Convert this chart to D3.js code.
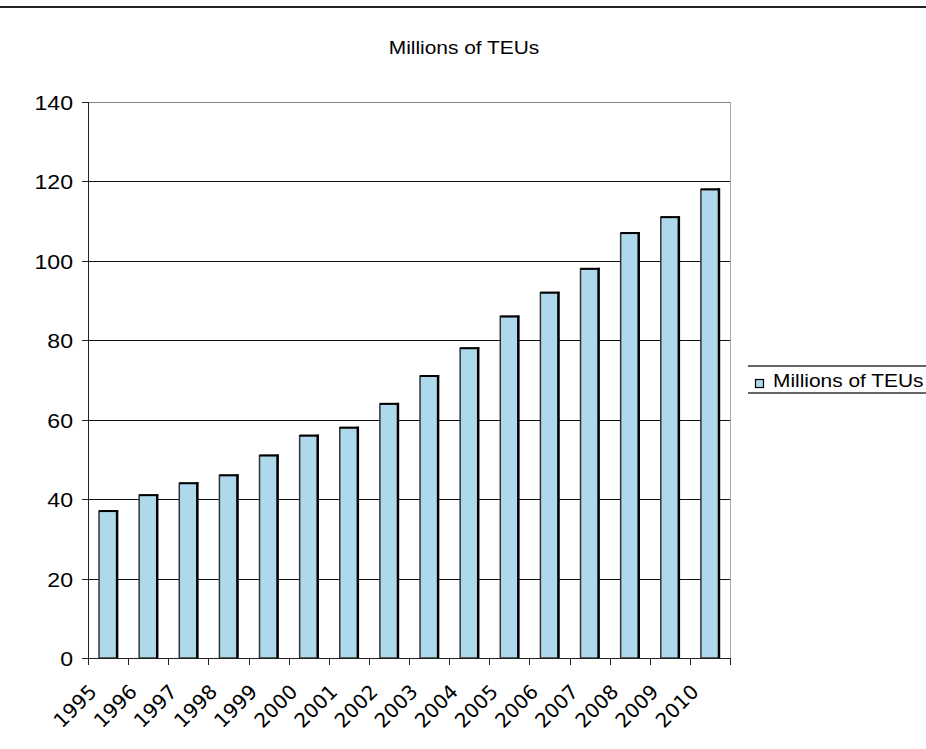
<!DOCTYPE html>
<html>
<head>
<meta charset="utf-8">
<script src="https://cdn.jsdelivr.net/npm/d3@7"></script>
<style>
  body { margin: 0; background: #fff; }
  svg { display: block; }
</style>
</head>
<body>
<div id="chart"></div>
<script>
const years = ['1995', '1996', '1997', '1998', '1999', '2000', '2001', '2002',
    '2003', '2004', '2005', '2006', '2007', '2008', '2009', '2010']
const teus = [37, 41, 44, 46, 51, 56, 58, 64, 71, 78, 86, 92, 98, 107, 111, 118]
const yTicks = [0, 20, 40, 60, 80, 100, 120, 140]
const seriesName = 'Millions of TEUs'

const width = 926
const height = 749
const plot = { left: 88, right: 730, top: 102, bottom: 658 }
const stretch = 1.1   // text in the original is a bit wide

const svg = d3.select('#chart')
    .append('svg')
    .attr('width', width)
    .attr('height', height)

const x = d3.scaleBand()
    .domain(years)
    .range([plot.left, plot.right])
    .paddingInner(0.55)
    .paddingOuter(0.275)

const y = d3.scaleLinear()
    .domain([0, 140])
    .range([plot.bottom, plot.top])

// top rule
svg.append('line')
    .attr('x1', 0).attr('x2', width)
    .attr('y1', 7).attr('y2', 7)
    .attr('stroke', '#222')
    .attr('stroke-width', 2)

// title
svg.append('text')
    .attr('transform', `translate(${width / 2 + 1},54) scale(${stretch},1)`)
    .attr('text-anchor', 'middle')
    .attr('font-family', 'Liberation Sans, Arial, sans-serif')
    .attr('font-size', 19)
    .attr('fill', '#000')
    .text(seriesName)

// gridlines
svg.append('g')
    .selectAll('line')
    .data(yTicks.filter(d => d > 0))
    .enter()
    .append('line')
    .attr('x1', plot.left).attr('x2', plot.right)
    .attr('y1', d => Math.round(y(d)) + 0.5)
    .attr('y2', d => Math.round(y(d)) + 0.5)
    .attr('stroke', d => d === 140 ? '#888' : '#111')
    .attr('stroke-width', 1)

// right border of plot
svg.append('line')
    .attr('x1', plot.right + 0.5).attr('x2', plot.right + 0.5)
    .attr('y1', plot.top).attr('y2', plot.bottom)
    .attr('stroke', '#aaa')

// bars
const bars = svg.append('g')
    .selectAll('g')
    .data(years.map((d, i) => ({ year: d, value: teus[i] })))
    .enter()
    .append('g')

bars.append('rect')
    .attr('x', d => x(d.year))
    .attr('y', d => y(d.value))
    .attr('width', x.bandwidth())
    .attr('height', d => y(0) - y(d.value))
    .attr('fill', '#aed8ec')
    .attr('stroke', '#333')
    .attr('stroke-width', 1.5)

bars.append('line')
    .attr('x1', d => x(d.year) + x.bandwidth())
    .attr('x2', d => x(d.year) + x.bandwidth())
    .attr('y1', d => y(d.value) - 1)
    .attr('y2', y(0))
    .attr('stroke', '#000')
    .attr('stroke-width', 2.5)

bars.append('line')
    .attr('x1', d => x(d.year))
    .attr('x2', d => x(d.year) + x.bandwidth() + 1)
    .attr('y1', d => y(d.value))
    .attr('y2', d => y(d.value))
    .attr('stroke', '#000')
    .attr('stroke-width', 2)

// y axis
svg.append('line')
    .attr('x1', plot.left + 0.5).attr('x2', plot.left + 0.5)
    .attr('y1', plot.top).attr('y2', plot.bottom + 6)
    .attr('stroke', '#222')

const yAxis = svg.append('g')
yAxis.selectAll('line')
    .data(yTicks)
    .enter()
    .append('line')
    .attr('x1', plot.left - 6).attr('x2', plot.left)
    .attr('y1', d => Math.round(y(d)) + 0.5)
    .attr('y2', d => Math.round(y(d)) + 0.5)
    .attr('stroke', '#222')

yAxis.selectAll('text')
    .data(yTicks)
    .enter()
    .append('text')
    .attr('transform', d => `translate(73,${y(d) + 8}) scale(${stretch},1)`)
    .attr('text-anchor', 'end')
    .attr('font-family', 'Liberation Sans, Arial, sans-serif')
    .attr('font-size', 21)
    .attr('fill', '#000')
    .text(d => d)

// x axis
svg.append('line')
    .attr('x1', plot.left).attr('x2', plot.right + 1)
    .attr('y1', plot.bottom + 0.5).attr('y2', plot.bottom + 0.5)
    .attr('stroke', '#222')

svg.append('g')
    .selectAll('line')
    .data(d3.range(years.length + 1))
    .enter()
    .append('line')
    .attr('x1', i => Math.round(plot.left + i * x.step()) + 0.5)
    .attr('x2', i => Math.round(plot.left + i * x.step()) + 0.5)
    .attr('y1', plot.bottom)
    .attr('y2', plot.bottom + 7)
    .attr('stroke', '#222')

svg.append('g')
    .selectAll('text')
    .data(years)
    .enter()
    .append('text')
    .attr('transform', d => `translate(${x(d) + x.bandwidth() / 2 - 10},693) rotate(-45)`)
    .attr('text-anchor', 'end')
    .attr('font-family', 'DejaVu Sans, Verdana, sans-serif')
    .attr('font-size', 20)
    .attr('fill', '#000')
    .text(d => d)

// legend
const legend = svg.append('g')
legend.selectAll('line')
    .data([366, 393])
    .enter()
    .append('line')
    .attr('x1', 748).attr('x2', width)
    .attr('y1', d => d).attr('y2', d => d)
    .attr('stroke', '#333')
    .attr('stroke-width', 1.5)

legend.append('rect')
    .attr('x', 755.5).attr('y', 379.5)
    .attr('width', 8).attr('height', 8)
    .attr('fill', '#aed8ec')
    .attr('stroke', '#000')
    .attr('stroke-width', 1.2)

legend.append('text')
    .attr('transform', `translate(773,387) scale(${stretch},1)`)
    .attr('font-family', 'Liberation Sans, Arial, sans-serif')
    .attr('font-size', 19)
    .attr('fill', '#000')
    .text(seriesName)
</script>
</body>
</html>
